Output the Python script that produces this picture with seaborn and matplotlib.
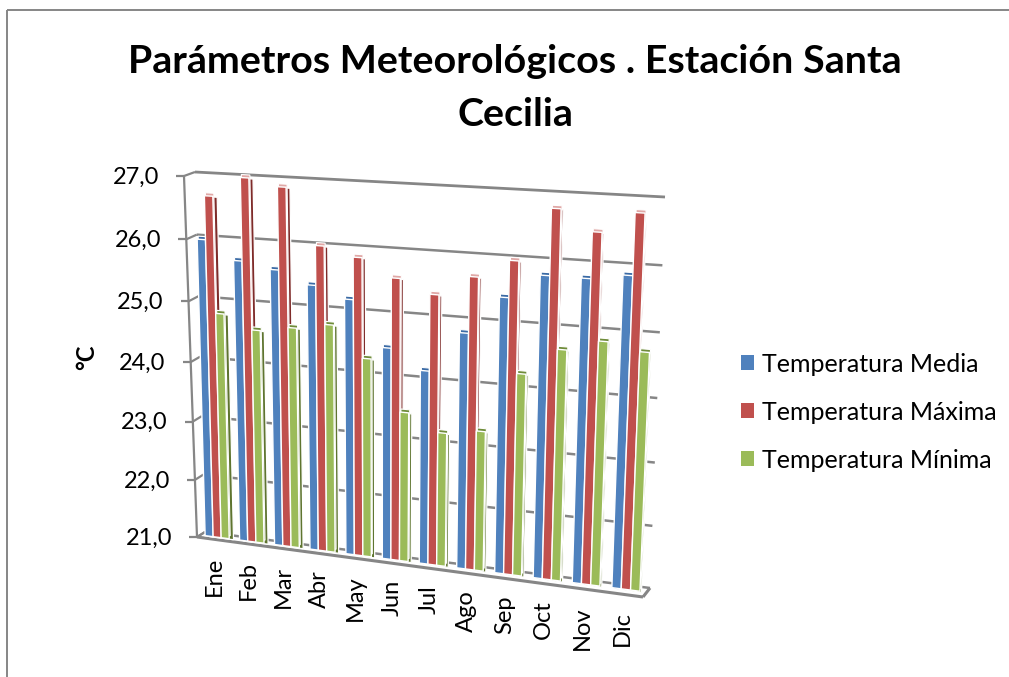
import numpy as np
import pandas as pd
import matplotlib
matplotlib.use('Agg')
import matplotlib.pyplot as plt
import matplotlib.transforms as mtransforms
from matplotlib.patches import Patch
import seaborn as sns

# Data
meses = ['Ene', 'Feb', 'Mar', 'Abr', 'May', 'Jun', 'Jul', 'Ago', 'Sep', 'Oct', 'Nov', 'Dic']
temp_media = [25.97, 25.67, 25.57, 25.37, 25.19, 24.47, 24.16, 24.81, 25.41, 25.79, 25.79, 25.88]
temp_maxima = [26.67, 26.99, 26.88, 26.00, 25.86, 25.58, 25.37, 25.69, 25.98, 26.80, 26.49, 26.81]
temp_minima = [24.79, 24.57, 24.66, 24.76, 24.27, 23.46, 23.19, 23.28, 24.25, 24.68, 24.86, 24.75]
series = ['Temperatura Media', 'Temperatura Máxima', 'Temperatura Mínima']
y_ticks = [21, 22, 23, 24, 25, 26, 27]

colores = ['#4F81BD', '#C0504D', '#9BBB59']
oscuros = ['#2C4D75', '#7F2C2A', '#5F7530']
tapas = ['#3A6AA5', '#E0A8A6', '#6F8C3A']
GRIS = '#868686'
W, H = 1009, 677


class Homography(mtransforms.Transform):
    # maps data coords of the 3D chart walls onto figure pixels
    input_dims = 2
    output_dims = 2
    is_separable = False

    def __init__(self, corners):
        super().__init__()
        src = [(-0.5, 21), (11.5, 21), (11.5, 27), (-0.5, 27)]
        A, b = [], []
        for (x, y), (u, v) in zip(src, corners):
            v = H - v
            A.append([x, y, 1, 0, 0, 0, -u * x, -u * y])
            A.append([0, 0, 0, x, y, 1, -v * x, -v * y])
            b += [u, v]
        self.m = np.append(np.linalg.solve(np.array(A, float), np.array(b, float)), 1).reshape(3, 3)

    def transform_non_affine(self, values):
        values = np.asarray(values, float)
        p = np.column_stack([values, np.ones(len(values))]) @ self.m.T
        return p[:, :2] / p[:, 2:]


# corners: bottom-left, bottom-right, top-right, top-left, in image pixels
back = Homography([(205, 532), (650, 588), (665, 197), (195, 172)])
front = Homography([(197, 537), (643, 597), (660, 205), (184, 176)])
bars = Homography([(200, 535), (646, 592), (662, 201), (190, 174)])
side = Homography([(204.5, 536), (647.5, 593), (663.5, 202), (194.5, 175)])
cap = Homography([(201, 532), (647, 589), (663, 198), (191, 171)])
pix = mtransforms.IdentityTransform()

df = pd.DataFrame({'mes': meses, series[0]: temp_media, series[1]: temp_maxima, series[2]: temp_minima})
df = df.melt(id_vars='mes', var_name='serie', value_name='valor')

sns.set_theme(style='white')
plt.rcParams['font.family'] = ['Lato', 'DejaVu Sans']

fig = plt.figure(figsize=(W / 100, H / 100), dpi=100)
ax = fig.add_axes([0, 0, 1, 1])


def capa(palette, tr, zorder, lw):
    n = len(ax.patches)
    sns.barplot(data=df, x='mes', y='valor', hue='serie', hue_order=series, order=meses,
                palette=palette, saturation=1, width=0.7, gap=0, legend=False,
                edgecolor='white', linewidth=lw, ax=ax)
    for p in ax.patches[n:]:
        top = p.get_y() + p.get_height()
        p.set_y(21)
        p.set_height(top - 21)
        p.set_transform(tr)
        p.set_clip_on(False)
        p.set_zorder(zorder)


capa(oscuros, side, 3, 0.9)
capa(tapas, cap, 4, 0.8)
capa(colores, bars, 5, 1.0)


def linea(a, b, lw=1.6):
    ax.plot([a[0], b[0]], [a[1], b[1]], color=GRIS, lw=lw, transform=pix, clip_on=False,
            zorder=2, solid_capstyle='butt')


# back wall gridlines, left wall links and axis ticks
for v in y_ticks:
    b0 = back.transform([(-0.5, v)])[0]
    b1 = back.transform([(11.5, v)])[0]
    f0 = front.transform([(-0.5, v)])[0]
    linea(b0, b1, 2.0 if v == 27 else 1.8)
    linea(b0, f0)
    linea(f0, f0 - np.array([8, 0]))
    ax.text(f0[0] - 25, f0[1] - 1, f'{v},0', ha='right', va='center',
            fontsize=17, color='black', transform=pix)

# axis and floor
p0 = front.transform([(-0.5, 21)])[0]
p1 = front.transform([(11.5, 21)])[0]
p2 = front.transform([(-0.5, 27)])[0]
p3 = back.transform([(11.5, 21)])[0]
p4 = back.transform([(-0.5, 21)])[0]
linea(p0, p2)
linea(p0, p1, 2.2)
linea(p1, p3, 2.2)
linea(p0, p4)

# category labels under the floor edge
for i, mes in enumerate(meses):
    q = front.transform([(i, 21)])[0]
    ax.text(q[0], q[1] - 17, mes, rotation=90, ha='center', va='top', fontsize=17,
            color='black', transform=pix)

ax.text(515, H - 88, 'Parámetros Meteorológicos . Estación Santa\nCecilia', ha='center', va='center',
        fontsize=28.4, fontweight='bold', color='black', linespacing=1.62, transform=pix)
ax.text(87, H - 357, '°C', rotation=90, ha='center', va='center', fontsize=17,
        fontweight='bold', color='black', transform=pix)

handles = [Patch(facecolor=c, edgecolor='none') for c in colores]
fig.legend(handles, series, loc='center left', bbox_to_anchor=(741 / W, 1 - 412 / H), frameon=False,
           fontsize=18, handlelength=0.52, handleheight=0.52, handletextpad=0.3, labelspacing=1.0,
           borderpad=0, borderaxespad=0, labelcolor='black')

# outer frame, only left and top fall inside the picture
linea((7, 0), (7, H - 10), 1.4)
linea((7, H - 10), (W, H - 10), 1.4)

ax.set_xlim(-0.5, 11.5)
ax.set_ylim(21, 27)
ax.axis('off')
fig.savefig('out.png', dpi=100, facecolor='white')
